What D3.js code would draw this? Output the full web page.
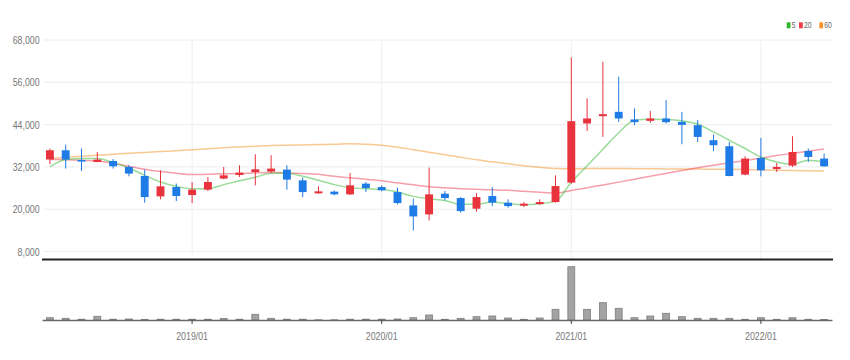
<!DOCTYPE html>
<html><head><meta charset="utf-8">
<script src="https://cdn.jsdelivr.net/npm/d3@7"></script>
<style>
html,body{margin:0;padding:0;background:#fff;}
svg{display:block;font-family:"Liberation Sans Narrow","Liberation Sans",Arial,sans-serif;}
</style></head>
<body><svg id="c" width="850" height="360"></svg>
<script>
const months = ["2018/04","2018/05","2018/06","2018/07","2018/08","2018/09","2018/10","2018/11","2018/12",
"2019/01","2019/02","2019/03","2019/04","2019/05","2019/06","2019/07","2019/08","2019/09","2019/10","2019/11","2019/12",
"2020/01","2020/02","2020/03","2020/04","2020/05","2020/06","2020/07","2020/08","2020/09","2020/10","2020/11","2020/12",
"2021/01","2021/02","2021/03","2021/04","2021/05","2021/06","2021/07","2021/08","2021/09","2021/10","2021/11","2021/12",
"2022/01","2022/02","2022/03","2022/04","2022/05"];
const openP = [34100,36720,33960,33400,33680,31980,29420,23640,26290,24010,25550,28680,29700,30550,30670,31240,28190,24490,24980,24210,27250,26290,24860,21080,18520,24410,23160,20140,23730,21850,21000,21450,22020,27540,44320,46390,47620,45450,45060,45740,44770,43830,39570,37860,29810,34530,31410,32370,36530,34360];
const closeP = [36720,34080,33510,34080,32170,30100,23440,26490,23730,25550,27710,29610,30380,31320,31520,28390,24860,25060,24210,26770,26000,25350,21740,17950,24210,23160,19460,23440,21850,20880,21560,22020,26570,44970,45740,46960,45740,44690,45740,44690,43920,40510,38150,29420,34360,31040,31980,36240,34820,32170];
const highP = [37200,38350,37200,36240,34250,32540,31240,31040,27250,27710,29130,31980,32460,35590,35300,32460,28960,26490,25350,30270,27710,26770,26120,22990,31800,25150,23440,24580,26290,22790,22020,22790,29610,63080,51430,61840,57570,48580,47900,50940,47620,45260,41190,39080,35020,40220,33110,40700,37200,35780];
const lowP = [32740,31520,30840,33310,31520,29330,21850,22790,22300,21740,25150,28480,29130,26770,30270,25550,23440,24410,23930,24010,24860,25060,21370,13970,16820,22500,19010,19290,20880,20430,20600,21280,21850,27250,42210,40510,44770,43830,44490,44320,38430,39080,36440,29330,29610,29330,30550,31980,33400,31980];
const ma5 = [32000,34080,34360,34360,33220,31690,29610,27710,26490,25830,25830,26970,28050,29050,30180,30180,29330,28190,26970,26120,25830,25630,24860,23640,22930,22500,21370,21370,22020,21560,21280,21560,22300,27620,32310,37010,41700,45260,45540,45450,45060,44120,41930,39570,37210,34820,33400,32740,33880,33400];
const ma20 = [34080,34020,33880,33680,33030,32170,31320,30670,30180,29810,29900,30040,30100,30320,30380,30320,30100,29900,29330,28900,28480,28050,27480,26910,26340,26060,25830,25630,25490,25350,25060,24780,24580,25290,26090,26880,27680,28500,29330,30150,30980,31770,32460,33140,33820,34480,35220,35840,36470,37090];
const ma60 = [34450,34730,35020,35300,35590,35870,36100,36350,36580,36870,37150,37430,37660,37860,38060,38150,38230,38350,38430,38580,38430,38150,37580,36870,36160,35440,34730,34020,33450,32880,32310,31890,31520,31460,31520,31520,31520,31490,31460,31430,31400,31380,31350,31320,31230,31150,31040,30950,30890,30840];
const volume = [23,17,8,37,8,10,5,8,8,8,8,15,8,57,17,8,8,2,2,8,8,8,10,23,50,7,17,33,40,20,7,20,107,533,107,173,117,23,40,67,33,17,17,17,7,23,7,23,7,5];
const xTicks = ["2019/01","2020/01","2021/01","2022/01"];
const yTicks = [8000,20000,32000,44000,56000,68000];
const legendNames = ["5","20","60"];

const svg = d3.select("#c");
const L = 42, R = 832;
const x = d3.scaleBand().domain(months).range([L, R]).paddingInner(0.5).paddingOuter(0.25);
const bw = x.bandwidth();
const cx = d => x(d) + bw / 2;
const y = d3.scaleLinear().domain([8000, 68000]).range([251.5, 40]);
const yv = d3.scaleLinear().domain([0, 560]).range([320, 264]);

const UP = "#e8323c", DOWN = "#1f7be6";
const lineCols = ["#45c045", "#ee4f62", "#f59a38"];
const legCols = ["#2fb52f", "#ec3c4c", "#f5962c"];

// grid
svg.append("g").selectAll("line").data(yTicks).join("line")
  .attr("x1", 44).attr("x2", R).attr("y1", d => y(d)).attr("y2", d => y(d))
  .attr("stroke", "#ececec").attr("stroke-width", 1);
svg.append("g").selectAll("line").data(xTicks).join("line")
  .attr("x1", d => cx(d)).attr("x2", d => cx(d)).attr("y1", 40).attr("y2", 258)
  .attr("stroke", "#efefef").attr("stroke-width", 1);

// y axis
const ya = svg.append("g").attr("transform", `translate(${L},0)`)
  .call(d3.axisLeft(y).tickValues(yTicks).tickSize(0).tickPadding(3).tickFormat(d3.format(",")));
ya.select(".domain").remove();
ya.selectAll("text").attr("fill", "#777").style("font-size", "11px")
  .style("font-family", "'Liberation Sans Narrow','Liberation Sans',sans-serif")
  .attr("transform", "scale(0.8,1)");

// MA lines
const mk = arr => d3.line().x((d, i) => cx(months[i])).y(d => y(d)).curve(d3.curveMonotoneX)(arr);
[ma60, ma20, ma5].forEach((arr, k) => {
  const col = [lineCols[2], lineCols[1], lineCols[0]][k];
  svg.append("path").attr("d", mk(arr)).attr("fill", "none")
    .attr("stroke", col).attr("stroke-opacity", 0.55).attr("stroke-width", 1.5);
});

// candles
const idx = d3.range(months.length);
const cg = svg.append("g");
cg.selectAll("line").data(idx).join("line")
  .attr("x1", i => cx(months[i])).attr("x2", i => cx(months[i]))
  .attr("y1", i => y(highP[i])).attr("y2", i => y(lowP[i]))
  .attr("stroke", i => closeP[i] >= openP[i] ? UP : DOWN).attr("stroke-width", 1);
cg.selectAll("rect").data(idx).join("rect")
  .attr("x", i => x(months[i])).attr("width", bw)
  .attr("y", i => y(Math.max(openP[i], closeP[i])))
  .attr("height", i => Math.max(1.6, Math.abs(y(openP[i]) - y(closeP[i]))))
  .attr("fill", i => closeP[i] >= openP[i] ? UP : DOWN);

// separator
svg.append("line").attr("x1", L).attr("x2", R + 1).attr("y1", 259.5).attr("y2", 259.5)
  .attr("stroke", "#222").attr("stroke-width", 1.8);

// volume
svg.append("g").selectAll("rect").data(idx).join("rect")
  .attr("x", i => x(months[i]) + 0.5).attr("width", bw - 1)
  .attr("y", i => yv(volume[i])).attr("height", i => yv(0) - yv(volume[i]))
  .attr("fill", "#a3a3a3").attr("stroke", "#7d7d7d").attr("stroke-width", 0.8);

const xa = svg.append("g").attr("transform", "translate(0,320)")
  .call(d3.axisBottom(x).tickValues(xTicks).tickSize(4).tickPadding(8).tickSizeOuter(0));
xa.select(".domain").attr("stroke", "#6a6a6a").attr("stroke-width", 1.6);
xa.selectAll(".tick line").attr("stroke", "#444");
xa.selectAll("text").attr("fill", "#777").style("font-size", "11px")
  .style("font-family", "'Liberation Sans Narrow','Liberation Sans',sans-serif")
  .attr("transform", "scale(0.8,1)");

// legend
const legX = [786.7, 799, 819.3];
const lg = svg.append("g");
legendNames.forEach((n, k) => {
  lg.append("rect").attr("x", legX[k]).attr("y", 22.3).attr("width", 3.8).attr("height", 6).attr("fill", legCols[k]);
  lg.append("text").attr("x", 0).attr("y", 0)
    .attr("transform", `translate(${legX[k] + 5},28.4) scale(0.8,1)`)
    .attr("fill", "#666").style("font-size", "8.5px").text(n);
});
</script></body></html>
